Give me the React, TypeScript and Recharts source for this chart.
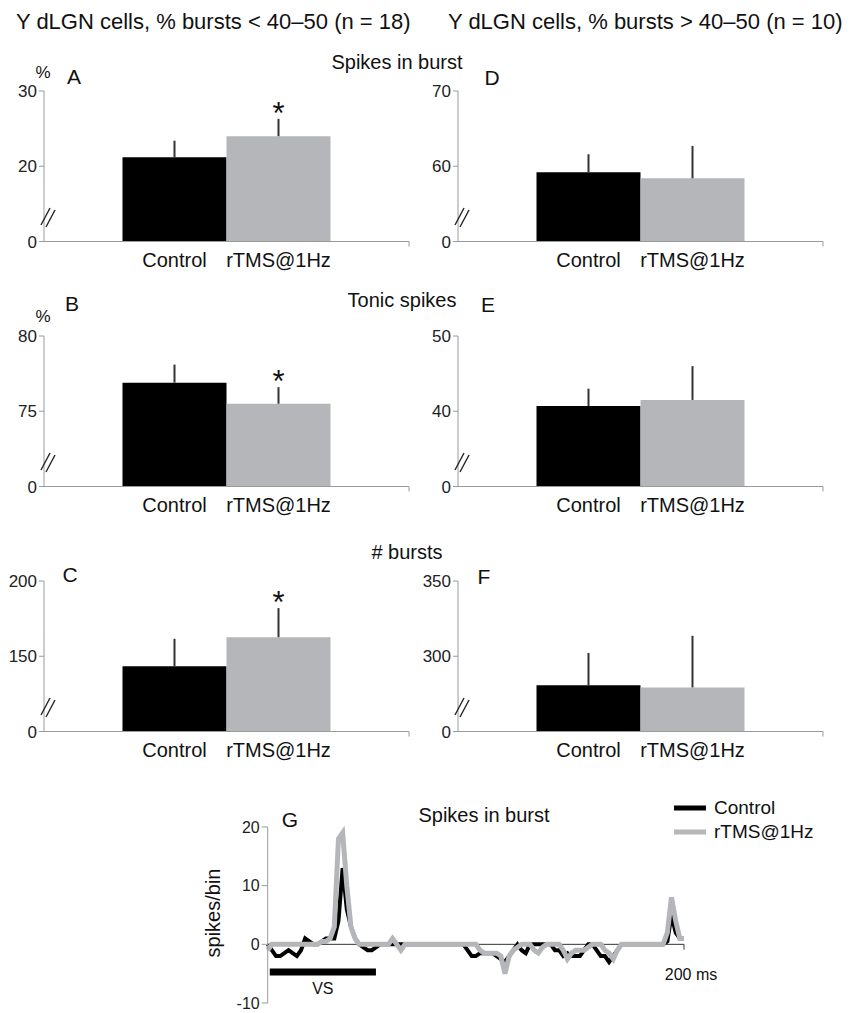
import React from "react";
import {
  BarChart,
  Bar,
  ErrorBar,
  LabelList,
  LineChart,
  Line,
  XAxis,
  YAxis,
  ReferenceLine,
  ReferenceArea,
  Legend,
} from "recharts";

const FONT = '"Liberation Sans", Arial, Helvetica, sans-serif';
const AXIS_GREY = "#9a9a9a";
const BAR_GREY = "#b4b6b9";

// ==================== DATA ====================

const SERIES = ["Control", "rTMS@1Hz"];
const PANEL_LETTERS = ["A", "B", "C", "D", "E", "F"];
const ROW_TITLES = ["Spikes in burst", "Tonic spikes", "# bursts"];

// mean and SEM per panel (A..F)
const MEAN_CONTROL = [21.2, 76.9, 143.3, 59.2, 40.7, 280.7];
const SEM_CONTROL = [2.2, 1.2, 18.3, 2.4, 2.3, 21.5];
const MEAN_RTMS = [24.0, 75.5, 162.7, 58.4, 41.5, 279.3];
const SEM_RTMS = [2.3, 1.1, 19.3, 4.3, 4.5, 34.3];
const SIGNIFICANT = [true, true, true, false, false, false];

// first tick sits under the axis break and is shown as "0"
const Y_TICKS = [
  [10, 20, 30],
  [70, 75, 80],
  [100, 150, 200],
  [50, 60, 70],
  [30, 40, 50],
  [250, 300, 350],
];
const SHOW_PERCENT = [true, true, false, false, false, false];

// PSTH of spikes in burst, 2 ms bins, 0..200 ms
const BIN_MS = 2;
const TRACE_CONTROL = [
  0, -1, -2, -2, -1.5, -1, -1.5, -2, -1, 1, 0.5, 0, 0, 0.5, 1, 1, 1, 4, 13, 6,
  3, 1, 0, -0.5, -1, -1, -0.5, 0, 0, 0, 0, 0, 0, 0, 0, 0, 0, 0, 0, 0,
  0, 0, 0, 0, 0, 0, 0, 0, -1, -2, -2, -1.5, -1.5, -1.5, -1.5, -2, -2.5, -3, -2, -1,
  0, -1, -1.5, 0, 0, 0, 0, 0, 0, -1, -1, -2, -1.5, -2, -2, -2, -1, 0, 0, -1,
  -2, -2, -3, -2, -1, 0, 0, 0, 0, 0, 0, 0, 0, 0, 0, 0, 0.5, 5, 2, 1,
  1,
];
const TRACE_RTMS = [
  -1, 0, 0, 0, 0, 0, 0, 0, 0, 0, 0, 0, 0, 0.5, 0.5, 1, 3, 18, 19, 10,
  3, 1, 0, 0, 0, 0, 0, 0, 0, 0, 1, 0, -1, 0, 0, 0, 0, 0, 0, 0,
  0, 0, 0, 0, 0, 0, 0, 0, 0, 0, 0, -1, -1.5, -1.5, -1.5, -1.5, -2, -5, -2, -1,
  -0.5, 0, 0, 0, -1, -1.5, -0.5, 0, 0, 0, 0, -1, -2.5, -1.5, -1, -1, -1, -0.5, 0, 0,
  0, -1, -1.5, -2.5, -1, 0, 0, 0, 0, 0, 0, 0, 0, 0, 0, 0, 2, 8, 4, 1,
  1,
];
const TRACE_TICKS = [-10, 0, 10, 20];
const VS_START = 1;
const VS_END = 52;

const traceData = TRACE_CONTROL.map((v, i) => ({
  t: i * BIN_MS,
  control: v,
  rtms: TRACE_RTMS[i],
}));

// ==================== SMALL HELPERS ====================

const Txt = ({
  x,
  y,
  size,
  children,
  center = false,
}: {
  x: number;
  y: number;
  size: number;
  children: React.ReactNode;
  center?: boolean;
}) => (
  <div
    style={{
      position: "absolute",
      left: x,
      top: y - size * 0.6,
      fontSize: size,
      lineHeight: `${size * 1.2}px`,
      fontFamily: FONT,
      color: "#111",
      whiteSpace: "nowrap",
      transform: center ? "translateX(-50%)" : undefined,
    }}
  >
    {children}
  </div>
);

const AxisBreak = ({ x, y }: { x: number; y: number }) => (
  <svg
    width={16}
    height={26}
    style={{ position: "absolute", left: x - 8, top: y - 13 }}
  >
    <line x1={1} y1={21} x2={10} y2={4} stroke="#222" strokeWidth={1.4} />
    <line x1={6} y1={23} x2={15} y2={6} stroke="#222" strokeWidth={1.4} />
  </svg>
);

// ==================== BAR PANEL ====================

const PLOT_H = 150.5;
const TICK_STYLE = { fill: "#222", fontSize: 17, fontFamily: FONT };

const BarPanel = ({ idx, left, top }: { idx: number; left: number; top: number }) => {
  const ticks = Y_TICKS[idx];
  const lo = ticks[0];
  const hi = ticks[ticks.length - 1];
  const data = [
    {
      x: 1,
      control: MEAN_CONTROL[idx],
      controlErr: [0, SEM_CONTROL[idx]],
      rtms: MEAN_RTMS[idx],
      rtmsErr: [0, SEM_RTMS[idx]],
    },
  ];

  // asterisk just above the rTMS error bar
  const renderStar = (p: any) => {
    if (!SIGNIFICANT[idx]) return null;
    const vb = p.viewBox || p;
    const k = vb.height / (MEAN_RTMS[idx] - lo);
    const errTop = vb.y - SEM_RTMS[idx] * k;
    return (
      <text
        x={vb.x + vb.width / 2}
        y={errTop + 5}
        textAnchor="middle"
        fontSize={31}
        fontFamily={FONT}
        fill="#111"
      >
        *
      </text>
    );
  };

  const nameStyle = { fill: "#111", fontSize: 20, fontFamily: FONT };

  return (
    <div style={{ position: "absolute", left, top: top - 10 }}>
      <BarChart
        width={420}
        height={10 + PLOT_H + 40}
        data={data}
        margin={{ top: 10, right: 11, bottom: 0, left: 4 }}
        barGap={0}
      >
        <XAxis
          type="number"
          dataKey="x"
          domain={[0, 2]}
          ticks={[2]}
          tickFormatter={() => ""}
          tickSize={5}
          height={40}
          stroke={AXIS_GREY}
        />
        <YAxis
          domain={[lo, hi]}
          ticks={ticks}
          interval={0}
          allowDataOverflow
          tickFormatter={(v: number, i: number) => (i === 0 ? "0" : String(v))}
          width={40}
          stroke={AXIS_GREY}
          tickSize={5}
          tick={TICK_STYLE}
        />
        <Bar
          dataKey="control"
          name={SERIES[0]}
          fill="#000"
          barSize={104}
          isAnimationActive={false}
        >
          <ErrorBar dataKey="controlErr" width={0} stroke="#333" strokeWidth={2} />
          <LabelList
            dataKey="control"
            position="bottom"
            offset={11}
            formatter={() => SERIES[0]}
            {...nameStyle}
          />
        </Bar>
        <Bar
          dataKey="rtms"
          name={SERIES[1]}
          fill={BAR_GREY}
          barSize={104}
          isAnimationActive={false}
        >
          <ErrorBar dataKey="rtmsErr" width={0} stroke="#333" strokeWidth={2} />
          <LabelList
            dataKey="rtms"
            position="bottom"
            offset={11}
            formatter={() => SERIES[1]}
            {...nameStyle}
          />
          <LabelList dataKey="rtms" content={renderStar} />
        </Bar>
      </BarChart>
      <AxisBreak x={48} y={10 + PLOT_H - 25} />
    </div>
  );
};

// ==================== PSTH PANEL ====================

const renderTraceLegend = (props: any) => (
  <div style={{ fontFamily: FONT, fontSize: 19, color: "#111" }}>
    {(props.payload || []).map((entry: any) => (
      <div
        key={entry.value}
        style={{ display: "flex", alignItems: "center", height: 24 }}
      >
        <svg width={32} height={8} style={{ marginRight: 8 }}>
          <line x1={0} y1={4} x2={32} y2={4} stroke={entry.color} strokeWidth={5} />
        </svg>
        <span>{entry.value}</span>
      </div>
    ))}
  </div>
);

const TracePanel = () => (
  <div style={{ position: "absolute", left: 160, top: 790 }}>
    <LineChart
      width={560}
      height={223}
      data={traceData}
      margin={{ top: 37, right: 36, bottom: 10, left: 47.7 }}
    >
      <XAxis type="number" dataKey="t" domain={[0, 200]} hide />
      <YAxis
        domain={[-10, 20]}
        ticks={TRACE_TICKS}
        interval={0}
        width={60}
        stroke={AXIS_GREY}
        tickSize={6}
        tick={{ ...TICK_STYLE, fontSize: 16 }}
      />
      <ReferenceLine y={0} stroke="#333" strokeWidth={1} />
      <ReferenceLine
        segment={[
          { x: 200, y: 0 },
          { x: 200, y: -0.9 },
        ]}
        stroke="#333"
      />
      <ReferenceArea
        x1={VS_START}
        x2={VS_END}
        y1={-4.1}
        y2={-5.3}
        fill="#000"
        fillOpacity={1}
        stroke="none"
        label={{
          value: "VS",
          position: "bottom",
          offset: 7,
          fill: "#111",
          fontSize: 16,
          fontFamily: FONT,
        }}
      />
      <Line
        type="linear"
        dataKey="control"
        name={SERIES[0]}
        stroke="#000"
        strokeWidth={4}
        dot={false}
        isAnimationActive={false}
      />
      <Line
        type="linear"
        dataKey="rtms"
        name={SERIES[1]}
        stroke={BAR_GREY}
        strokeWidth={5}
        dot={false}
        isAnimationActive={false}
      />
      <Legend
        layout="vertical"
        align="center"
        verticalAlign="middle"
        content={renderTraceLegend}
        wrapperStyle={{ left: 514, top: 6, width: 140 }}
      />
    </LineChart>
  </div>
);

// ==================== APP ====================

const ROW_TOPS = [91, 336, 581];
const COL_LEFTS = [0, 413.5];

export default function App() {
  return (
    <div
      style={{
        position: "absolute",
        left: 0,
        top: 0,
        width: 852,
        height: 1013,
        background: "#fff",
        overflow: "hidden",
      }}
    >
      <Txt x={16} y={22} size={22}>
        Y dLGN cells, % bursts &lt; 40–50 (n = 18)
      </Txt>
      <Txt x={448} y={22} size={22}>
        Y dLGN cells, % bursts &gt; 40–50 (n = 10)
      </Txt>

      <Txt x={397} y={62} size={20} center>
        {ROW_TITLES[0]}
      </Txt>
      <Txt x={402} y={300} size={20} center>
        {ROW_TITLES[1]}
      </Txt>
      <Txt x={407} y={552} size={20} center>
        {ROW_TITLES[2]}
      </Txt>

      {PANEL_LETTERS.map((letter, i) => {
        const col = i < 3 ? 0 : 1;
        const row = i % 3;
        return (
          <BarPanel
            key={letter}
            idx={i}
            left={COL_LEFTS[col]}
            top={ROW_TOPS[row]}
          />
        );
      })}

      <Txt x={74} y={77} size={21} center>A</Txt>
      <Txt x={72} y={304} size={21} center>B</Txt>
      <Txt x={70} y={575} size={21} center>C</Txt>
      <Txt x={492} y={78} size={21} center>D</Txt>
      <Txt x={488} y={305} size={21} center>E</Txt>
      <Txt x={484} y={577} size={21} center>F</Txt>
      {SHOW_PERCENT[0] && (
        <Txt x={43} y={73} size={17} center>%</Txt>
      )}
      {SHOW_PERCENT[1] && (
        <Txt x={43} y={317} size={17} center>%</Txt>
      )}

      <TracePanel />
      <Txt x={290} y={820} size={21} center>G</Txt>
      <Txt x={484} y={815} size={20} center>
        {ROW_TITLES[0]}
      </Txt>
      <div
        style={{
          position: "absolute",
          left: 213,
          top: 913,
          transform: "translate(-50%, -50%) rotate(-90deg)",
          fontFamily: FONT,
          fontSize: 20,
          color: "#111",
          whiteSpace: "nowrap",
        }}
      >
        spikes/bin
      </div>
      <Txt x={691} y={975} size={16} center>
        200 ms
      </Txt>
    </div>
  );
}
